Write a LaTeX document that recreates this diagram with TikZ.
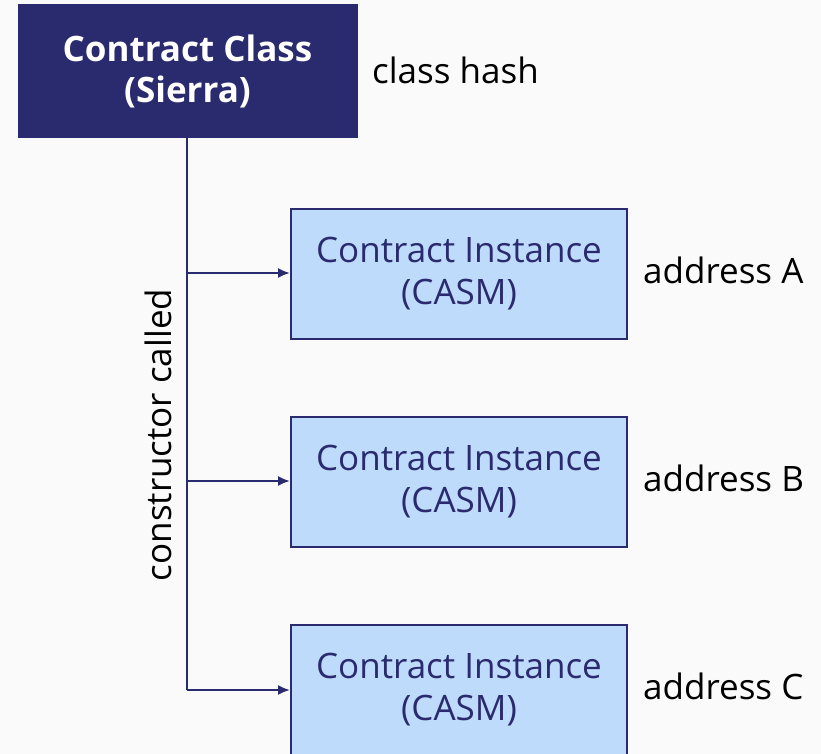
\documentclass[tikz,border=0pt]{standalone}
\usepackage{fontspec}
\setmainfont{Open Sans}
\usetikzlibrary{arrows.meta}
\definecolor{navy}{HTML}{2A2A6E}
\definecolor{lightblue}{HTML}{BFDBFB}
\definecolor{bg}{HTML}{FAFAFB}
\tikzset{
  classbox/.style={draw=navy, fill=navy, line width=1pt, minimum width=339pt, minimum height=133pt, text=white, font=\fontsize{35}{41}\selectfont\bfseries, align=center, inner sep=0pt},
  instbox/.style={draw=navy, fill=lightblue, line width=2pt, minimum width=336pt, minimum height=130pt, text=navy, font=\fontsize{35}{42}\selectfont, align=center, inner sep=0pt},
  lbl/.style={font=\fontsize{35}{40}\selectfont, text=black, anchor=west, inner sep=0pt},
  conn/.style={draw=navy, line width=2pt},
  arr/.style={conn, -{Latex[length=12pt,width=10pt]}}
}
\begin{document}
\begin{tikzpicture}[x=1pt,y=-1pt]
\fill[bg] (0,0) rectangle (821,754);
\useasboundingbox (0,0) rectangle (821,754);
\clip (0,0) rectangle (821,754);
\node[classbox] (cls) at (187.5,71.5) {Contract Class\\(Sierra)};
\node[lbl] (hash) at (372,70) {class hash};
\node[instbox] (i1) at (459,274) {Contract Instance\\(CASM)};
\node[instbox] (i2) at (459,482) {Contract Instance\\(CASM)};
\node[instbox] (i3) at (459,690) {Contract Instance\\(CASM)};
\node[lbl] (a1) at (643,270) {address A};
\node[lbl] (a2) at (643,478) {address B};
\node[lbl] (a3) at (643,686) {address C};
\coordinate (j1) at (187,273);
\coordinate (j2) at (187,481);
\coordinate (j3) at (187,690);
\draw[conn] (cls.south -| j1) -- (j3);
\draw[arr] (j1) -- (j1 -| i1.west);
\draw[arr] (j2) -- (j2 -| i2.west);
\draw[arr] (j3) -- (j3 -| i3.west);
\node[font=\fontsize{35}{40}\selectfont, rotate=90, inner sep=0pt] (cc) at (158,435) {constructor called};
\end{tikzpicture}
\end{document}
